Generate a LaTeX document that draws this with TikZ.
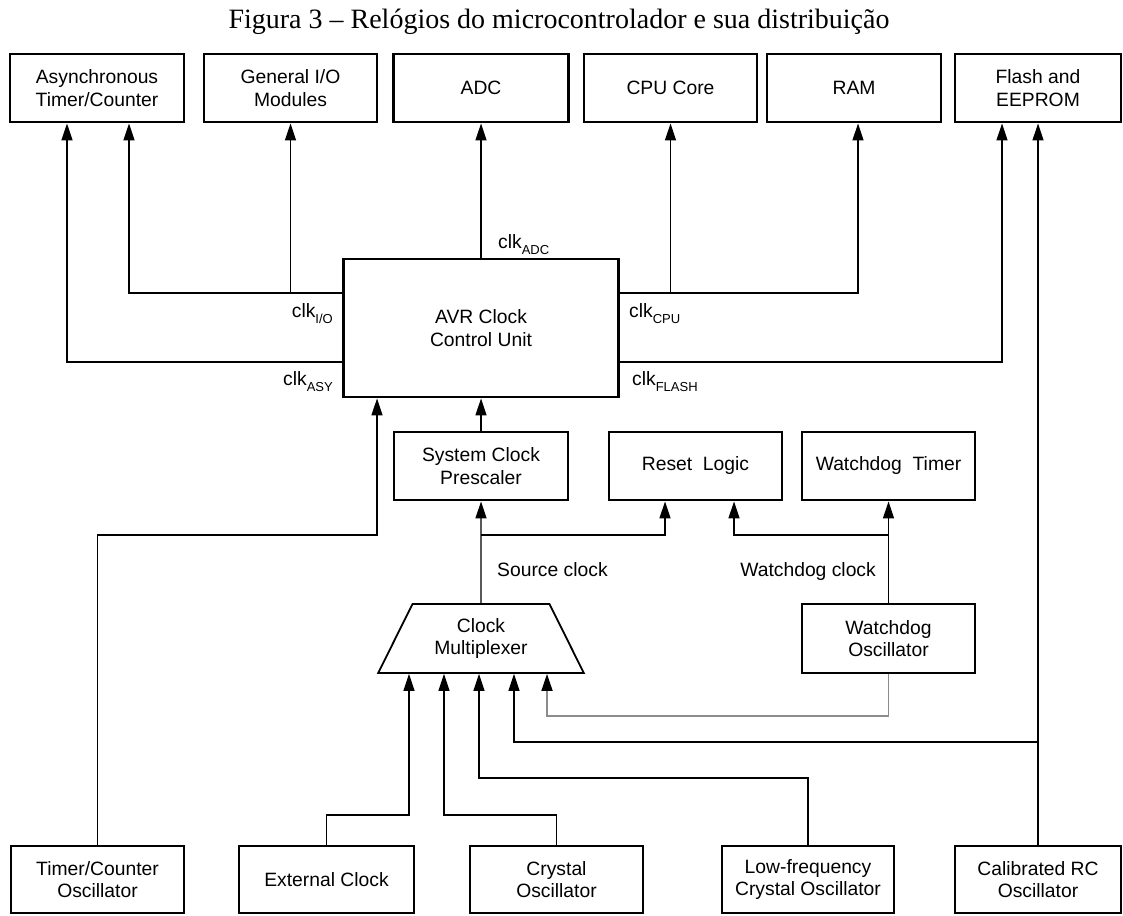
\documentclass[tikz,border=0pt]{standalone}
\usepackage{fontspec}
\setmainfont{Liberation Sans}
\newfontfamily\titlefont{Liberation Serif}
\usetikzlibrary{arrows.meta,shapes.geometric}

\newcommand{\clksig}[1]{clk\raisebox{-0.33em}{\fontsize{13}{14}\selectfont #1}}

\tikzset{
  blk/.style={draw,line width=2.9pt,align=center,inner sep=0pt,minimum height=68pt,font=\fontsize{19.3}{22.5}\selectfont},
  mux/.style={draw,line width=1.8pt,shape=trapezium,trapezium left angle=60,trapezium right angle=60,trapezium stretches=true,minimum width=206pt,minimum height=69pt,align=center,inner sep=0pt,font=\fontsize{19.3}{22.5}\selectfont},
  lbl/.style={inner sep=0pt,font=\fontsize{19.3}{22.5}\selectfont},
  arr/.style={line width=1.3pt,-{Triangle[length=17pt,width=11pt,color=black]}},
  gry/.style={draw=black!45,line width=1.7pt}
}

\begin{document}
\begin{tikzpicture}[x=1pt,y=-1pt]
   \useasboundingbox (0,0) rectangle (1123,915);
   \node[anchor=base,inner sep=0pt,font=\titlefont\fontsize{28}{30}\selectfont] (ttl) at (559,29) {Figura 3 – Relógios do microcontrolador e sua distribuição};

   \node[blk,minimum width=174pt] (asy) at (97,88) {Asynchronous\\Timer/Counter};
   \node[blk,minimum width=173pt] (gio) at (290.5,88) {General I/O\\Modules};
   \node[blk,minimum width=175pt] (adc) at (481,88) {ADC};
   \node[blk,minimum width=173pt] (cpu) at (670.5,88) {CPU Core};
   \node[blk,minimum width=174pt] (ram) at (854,88) {RAM};
   \node[blk,minimum width=166pt] (fla) at (1038,88) {Flash and\\EEPROM};

   \node[blk,minimum width=275pt,minimum height=138pt] (avr) at (481,328) {AVR Clock\\Control Unit};

   \node[blk,minimum width=174pt] (psc) at (481,466) {System Clock\\Prescaler};
   \node[blk,minimum width=173pt] (rst) at (695.5,466) {Reset\ \ Logic};
   \node[blk,minimum width=173pt] (wdt) at (888.5,466) {Watchdog\ \ Timer};

   \node[mux] (cmx) at (481,638.5) {Clock\\Multiplexer};
   \node[blk,minimum width=173pt,minimum height=69pt] (wdo) at (888.5,638.5) {Watchdog\\Oscillator};

   \node[blk,minimum width=173pt,minimum height=67pt] (tco) at (97.5,879.5) {Timer/Counter\\Oscillator};
   \node[blk,minimum width=175pt,minimum height=67pt] (ext) at (326.5,879.5) {External Clock};
   \node[blk,minimum width=173pt,minimum height=67pt] (cry) at (556.5,879.5) {Crystal\\Oscillator};
   \node[blk,minimum width=172pt,minimum height=67pt] (lfc) at (808,879.5) {Low-frequency\\Crystal Oscillator};
   \node[blk,minimum width=166pt,minimum height=67pt] (crc) at (1038,879.5) {Calibrated RC\\Oscillator};

   \node[lbl,anchor=base west] (ladc) at (498,248) {\clksig{ADC}};
   \node[lbl,anchor=base east] (lio) at (333,317) {\clksig{I/O}};
   \node[lbl,anchor=base east] (lasy) at (333,385) {\clksig{ASY}};
   \node[lbl,anchor=base west] (lcpu) at (629,317) {\clksig{CPU}};
   \node[lbl,anchor=base west] (lfls) at (632,385) {\clksig{FLASH}};
   \node[lbl,anchor=base west] (lsrc) at (497,576) {Source clock};
   \node[lbl,anchor=base east] (lwdc) at (876,576) {Watchdog clock};

   \draw[arr] (avr.west |- 0,362) -| (67,0 |- asy.south);
   \draw[arr] (avr.west |- 0,293) -| (129,0 |- asy.south);
   \draw[arr] (gio.south |- 0,293) -- (gio.south);
   \draw[arr] (avr.north) -- (adc.south);
   \draw[arr] (avr.east |- 0,293) -| (858,0 |- ram.south);
   \draw[arr] (cpu.south |- 0,293) -- (cpu.south);
   \draw[arr] (avr.east |- 0,362) -| (1002,0 |- fla.south);
   \draw[arr] (crc.north) -- (crc.north |- fla.south);

   \draw[arr] (tco.north) |- (377,535) -- (377,0 |- avr.south);
   \draw[arr] (psc.north) -- (psc.north |- avr.south);
   \draw[arr] (cmx.north) -- (psc.south);
   \draw[arr] (cmx.north |- 0,535) -| (665,0 |- rst.south);
   \draw[arr] (wdo.north) -- (wdt.south);
   \draw[arr] (wdo.north |- 0,535) -| (734,0 |- rst.south);

   \draw[arr] (ext.north) |- (409,815) -- (409,0 |- cmx.south);
   \draw[arr] (cry.north) |- (444,815) -- (444,0 |- cmx.south);
   \draw[arr] (lfc.north) |- (479,778) -- (479,0 |- cmx.south);
   \draw[arr] (crc.north |- 0,742) -| (514,0 |- cmx.south);
   \draw[arr,gry] (wdo.south) |- (547,716) -- (547,0 |- cmx.south);
\end{tikzpicture}
\end{document}
